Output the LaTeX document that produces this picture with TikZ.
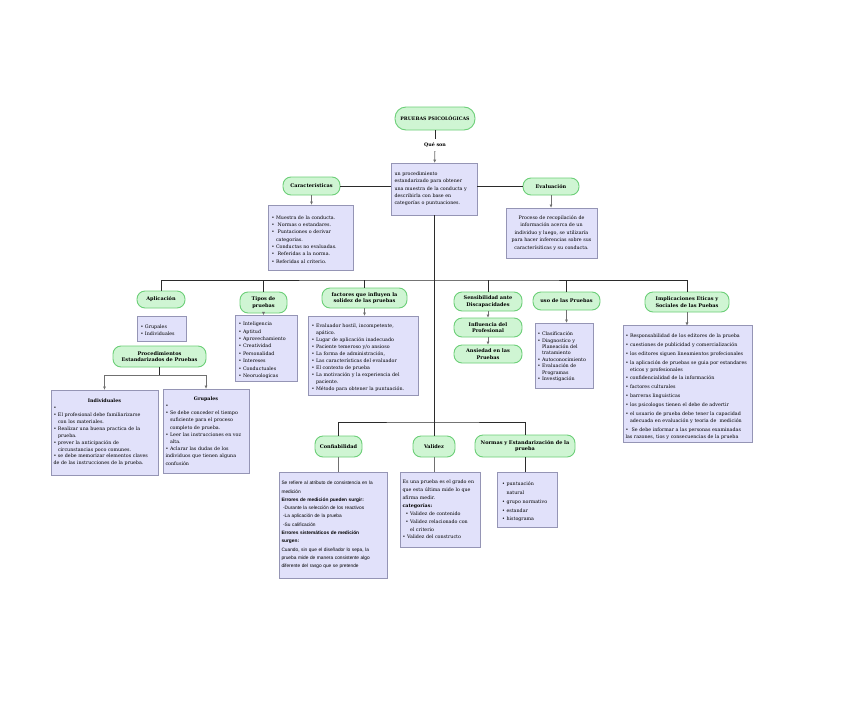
\documentclass[tikz,border=0pt]{standalone}
\usepackage{fontspec}
\setmainfont{DejaVu Serif}
\newfontfamily\arialf{Liberation Sans}
\usetikzlibrary{arrows.meta,shadows}
\definecolor{PsiGreen}{HTML}{6CCF78}
\definecolor{PsiMint}{HTML}{CFF5D3}
\definecolor{PsiLilac}{HTML}{E1E1FA}
\definecolor{PsiFrame}{HTML}{9595B5}
\definecolor{PsiInk}{HTML}{2B2B2B}
\definecolor{PsiWire}{HTML}{707070}
\newcommand\itm{\par\hangindent=4.5pt\hangafter=1\noindent\hbox to 4.5pt{\textbullet\hss}}
\newcommand\psz[1]{\fontsize{4.8}{#1}\selectfont\hyphenpenalty=10000}

\begin{document}
\begin{tikzpicture}[x=1pt, y=-1pt, font=\psz{7.3}, >={Triangle[length=3pt,width=2.6pt]}, line width=0.8pt,
  pill/.style={rounded corners=8pt, draw=PsiGreen, fill=PsiMint, line width=0.9pt, align=center, font=\fontsize{5}{6.6}\selectfont\bfseries, inner sep=2pt},
  card/.style={draw=PsiFrame, fill=PsiLilac, line width=0.8pt, align=left, inner xsep=2.5pt, inner ysep=3pt, drop shadow={opacity=0.25, shadow xshift=0.8pt, shadow yshift=-0.8pt}},
  bus/.style={draw=PsiInk},
  wire/.style={draw=PsiWire, ->}]
\fill[white] (0,0) rectangle (848,707);
\useasboundingbox (0,0) rectangle (848,707);
% centre
\node[pill, rounded corners=11pt, minimum width=80pt, minimum height=23pt, font=\fontsize{4.7}{5}\selectfont\bfseries] (psi) at (435,118.5) {PRUEBAS PSICOLÓGICAS};
\node[font=\fontsize{4.8}{5}\selectfont\bfseries] (que) at (435,145) {Qué son};
\node[card, minimum width=86pt, minimum height=52pt, text width=79pt] (def) at (434,189) {un procedimiento\newline estandarizado para obtener\newline una muestra de la conducta y\newline describirla con base en\newline categorías o puntuaciones.};
\node[pill, minimum width=57pt, minimum height=18pt] (carac) at (311.5,186) {Características};
\node[card, minimum width=85pt, minimum height=65pt, text width=78pt] (caracL) at (310.5,237.5) {\itm Muestra de la conducta.\itm \ Normas o estandares.\itm \ Puntaciones o derivar\newline categorias.\itm Conductas no evaluadas.\itm \ Referidas a la norma.\itm Referidas al criterio.};
\node[pill, minimum width=56pt, minimum height=17pt] (eval) at (551,186.5) {Evaluación};
\node[card, minimum width=91pt, minimum height=50pt, text width=86pt, align=center, font=\psz{7.5}] (evalB) at (551.5,233) {Proceso de recopilación de\\ información acerca de un\\ individuo y luego, se utilizaría\\ para hacer inferencias sobre sus\\ caracterísiticas y su conducta.};
% aplicacion
\node[pill, minimum width=48pt, minimum height=17pt] (apl) at (161,299.5) {Aplicación};
\node[card, minimum width=49pt, minimum height=25pt, text width=42pt] (aplB) at (161.5,328.5) {\itm Grupales\itm Individuales};
\node[pill, minimum width=93pt, minimum height=21pt] (proc) at (159.5,356.5) {Procedimientos\\ Estandarizados de Pruebas};
\node[card, minimum width=107pt, minimum height=85pt, text width=102pt, font=\psz{6.9}] (indiv) at (104.5,432.5) {\centering\bfseries Individuales\par\raggedright\mdseries\itm\itm El profesional debe familiarizarse\newline con los materiales.\itm Realizar una buena practica de la\newline prueba.\itm prever la anticipación de\newline circunstancias poco comunes.\itm se debe memorizar elementos claves\newline de de las instrucciones de la prueba.};
\node[card, minimum width=86pt, minimum height=84pt, text width=81pt, font=\psz{7.2}] (grup) at (206,431) {\centering\bfseries Grupales\par\raggedright\mdseries\itm\itm Se debe conceder el tiempo\newline suficiente para el proceso\newline completo de prueba.\itm Leer las instrucciones en voz\newline alta.\itm Aclarar las dudas de los\newline individuos que tienen alguna\newline confusión};
% fila superior
\node[pill, minimum width=47pt, minimum height=21pt] (tipos) at (263.5,302.5) {Tipos de\\ pruebas};
\node[card, minimum width=62pt, minimum height=63pt, text width=55pt, font=\psz{7.4}] (tiposB) at (266,348.5) {\itm Inteligencia\itm Aptitud\itm Aprovechamiento\itm Creatividad\itm Personalidad\itm Intereses\itm Conductuales\itm Neoruologicas};
\node[pill, minimum width=85pt, minimum height=20pt] (fact) at (364.5,298) {factores que influyen la\\ solidez de las pruebas};
\node[card, minimum width=110pt, minimum height=79pt, text width=103pt, font=\psz{7}] (factB) at (363,355.5) {\itm Evaluador hostil, incompetente,\newline apático.\itm Lugar de aplicación inadecuado\itm Paciente temeroso y/o ansioso\itm La forma de administración,\itm Las características del evaluador\itm El contexto de prueba\itm La motivación y la experiencia del\newline paciente.\itm Método para obtener la puntuación.};
\node[pill, minimum width=68pt, minimum height=19pt] (sens) at (488,301.5) {Sensibilidad ante\\ Discapacidades};
\node[pill, minimum width=68pt, minimum height=19pt] (infl) at (488,327.5) {Influencia del\\ Profesional};
\node[pill, minimum width=68pt, minimum height=18pt] (ans) at (488,354) {Ansiedad en las\\ Pruebas};
\node[pill, minimum width=67pt, minimum height=18pt] (uso) at (566.5,301) {uso de las Pruebas};
\node[card, minimum width=58pt, minimum height=65pt, text width=53pt, font=\psz{6.4}] (usoB) at (564,355.5) {\itm Clasificación\itm Diagnostico y\newline Planeación del\newline tratamiento\itm Autoconocimiento\itm Evaluación de\newline Programas\itm Investigación};
\node[pill, minimum width=84pt, minimum height=20pt] (impl) at (687,302) {Implicaciones Eticas y\\ Sociales de las Puebas};
\node[card, minimum width=129pt, minimum height=112pt, text width=124pt, font=\psz{7.1}\setlength\parskip{1.7pt}] (implB) at (687.5,384) {\itm Responsabilidad de los editores de la prueba\itm cuestiones de publicidad y comercialización\itm los editores siguen lineamientos profecionales\itm la aplicación de pruebas se guia por estandares\newline eticos y profesionales\itm confidencialidad de la información\itm factores culturales\itm barreras linguisticas\itm los psicologos tienen el debe de advertir\itm el usuario de prueba debe tener la capacidad\newline adecuada en evaluación y teoria de\ \ medición\itm \ Se debe informar a las personas examinadas\newline las razones, tios y consecuencias de la prueba};
% fila inferior
\node[pill, minimum width=47pt, minimum height=21pt] (conf) at (338.5,446.5) {Confiabilidad};
\node[card, minimum width=108pt, minimum height=106pt, text width=103pt, font=\arialf\fontsize{4.8}{8.3}\selectfont] (confB) at (333,525) {Se refiere al atributo de consistencia en la\newline medición\par\textbf{Errores de medición pueden surgir:}\par\ -Durante la selección de los reactivos\par\ -La aplicación de la prueba\par\ -Su calificación\par\textbf{Errores sistemáticos de medición\newline surgen:}\par Cuando, sin que el diseñador lo sepa, la\newline prueba mide de manera consistente algo\newline diferente del rasgo que se pretende};
\node[pill, minimum width=42pt, minimum height=21pt] (val) at (434,446.5) {Validez};
\node[card, minimum width=80pt, minimum height=75pt, text width=75pt, font=\psz{7.9}] (valB) at (440,509.5) {Es una prueba es el grado en\newline que esta última mide lo que\newline afirma medir.\par\textbf{categorías:}\par\leftskip=3pt\itm Validez de contenido\itm Validez relacionado con\newline el criterio\itm Validez del constructo};
\node[pill, minimum width=100pt, minimum height=22pt] (norm) at (525,446) {Normas y Estandarización de la\\ prueba};
\node[card, minimum width=60pt, minimum height=55pt, text width=50pt, inner xsep=5pt, font=\psz{8.7}] (normB) at (527,499.5) {\itm puntuación\newline natural\itm grupo normativo\itm estandar\itm histograma};
% conectores
\coordinate (busT) at (434,280);
\coordinate (busB) at (434,422);
\coordinate (procF) at (159.5,375);
\draw[bus] (psi) -- (que);
\draw[wire] (que) -- (def);
\draw[bus] (carac.east) -- (carac.east -| def.west);
\draw[bus] (eval.west -| def.east) -- (eval.west);
\draw[wire] (carac) -- (carac |- caracL.north);
\draw[wire] (eval) -- (eval |- evalB.north);
\draw[bus] (def.south) -- (val.north);
\draw[bus] (apl.north) |- (busT) -| (impl.north);
\draw[bus] (tipos.north |- busT) -- (tipos.north);
\draw[bus] (fact.north |- busT) -- (fact.north);
\draw[bus] (sens.north |- busT) -- (sens.north);
\draw[bus] (uso.north |- busT) -- (uso.north);
\draw[bus] (conf.north) |- (busB) -| (norm.north);
\draw[bus] (proc) -- (procF);
\draw[wire] (procF) -| (indiv.north);
\draw[wire] (procF) -| (grup.north);
\draw[wire] (tipos) -- (tipos |- tiposB.north);
\draw[wire] (fact) -- (fact |- factB.north);
\draw[wire] (sens) -- (infl);
\draw[wire] (infl) -- (ans);
\draw[wire] (uso) -- (uso |- usoB.north);
\draw[wire] (impl) -- (impl |- implB.north);
\draw[wire, -] (conf) -- (conf |- confB.north);
\draw[wire, -] (val) -- (val |- valB.north);
\draw[bus] (norm) -- (norm |- normB.north);
\end{tikzpicture}
\end{document}
